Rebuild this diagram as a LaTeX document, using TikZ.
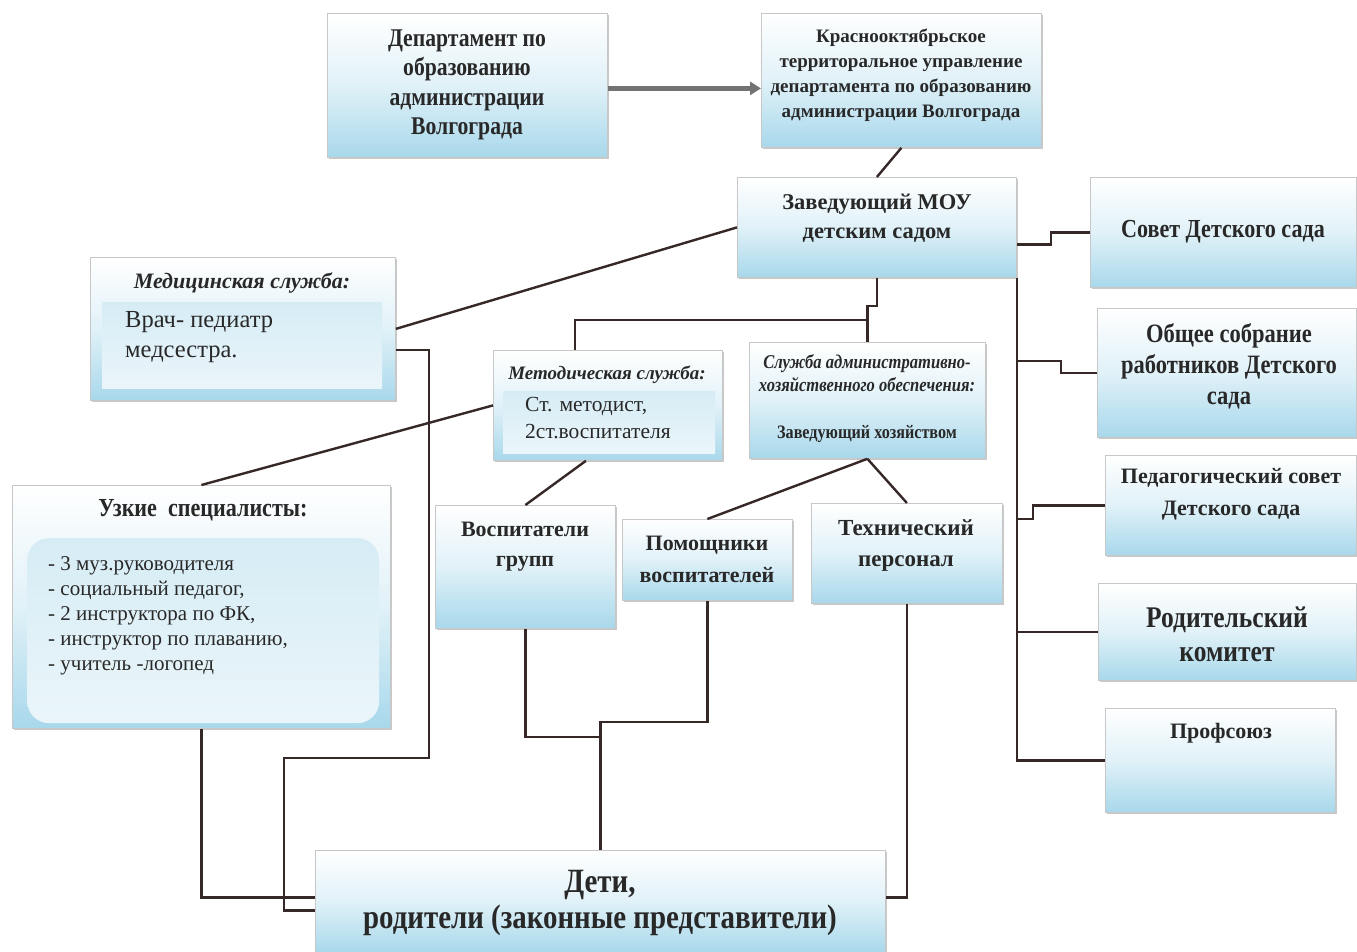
\documentclass[tikz,border=0pt]{standalone}
\usepackage{fontspec}
\setmainfont{Liberation Serif}
\newfontfamily\cond[FakeStretch=0.85]{Liberation Serif}
\usetikzlibrary{calc,shadows,arrows.meta}
\definecolor{boxblue}{RGB}{168,216,235}
\definecolor{innerblue}{RGB}{214,236,245}
\definecolor{lineclr}{RGB}{55,40,40}
\definecolor{txt}{RGB}{40,40,40}
\tikzset{
  orgbox/.style={draw=black!22, line width=0.8pt, top color=white, bottom color=boxblue,
    middle color=boxblue!35, anchor=north west, inner sep=0pt,
    drop shadow={shadow xshift=1.5pt, shadow yshift=-2pt, opacity=0.35, fill=black!60}},
  innerbox/.style={draw=none, top color=innerblue, bottom color=innerblue!50, anchor=north west, inner sep=0pt},
  conn/.style={draw=lineclr, line width=2.4pt},
  lbl/.style={text=txt, align=center, inner sep=0pt},
  lbll/.style={text=txt, align=left, inner sep=0pt, anchor=north west},
}
\newcommand\orgnode[5]{\node[orgbox, minimum width=#4pt, minimum height=#5pt] (#1) at (#2,#3) {};}
\newcommand\bfc[2]{\cond\bfseries\fontsize{#1}{#2}\selectfont}
\newcommand\bfp[2]{\bfseries\fontsize{#1}{#2}\selectfont}
\begin{document}
\begin{tikzpicture}[x=1pt,y=-1pt]
\useasboundingbox[fill=white] (0,0) rectangle (1357,952);
% boxes
\orgnode{dep}{327}{13}{280}{144}
\orgnode{kr}{761}{13}{280}{134}
\orgnode{zav}{737}{177}{279}{100}
\orgnode{sov}{1090}{177}{266}{110}
\orgnode{obs}{1097}{308}{259}{129}
\orgnode{ped}{1105}{455}{251}{100}
\orgnode{rod}{1098}{583}{258}{97}
\orgnode{prof}{1105}{708}{230}{104}
\orgnode{med}{90}{257}{305}{143}
\orgnode{met}{493}{350}{229}{110}
\orgnode{adm}{749}{342}{236}{116}
\orgnode{uzk}{12}{485}{378}{243}
\orgnode{vos}{435}{505}{180}{123}
\orgnode{pom}{622}{519}{170}{81}
\orgnode{teh}{811}{503}{191}{100}
\orgnode{det}{315}{850}{570}{102}
% inner areas
\node[innerbox, minimum width=280pt, minimum height=86pt] (med-in) at (102,302) {};
\node[innerbox, minimum width=212pt, minimum height=62pt] (met-in) at (503,391) {};
\node[innerbox, rounded corners=22pt, minimum width=352pt, minimum height=185pt] (uzk-in) at (27,538) {};
% texts
\node[lbl, font=\bfc{25.5}{29.5}] (dep-t) at (467,85) {Департамент по\\образованию\\администрации\\Волгограда};
\node[lbl, font=\bfp{19}{25}] (kr-t) at (901,75) {Краснооктябрьское\\территоральное управление\\департамента по образованию\\администрации Волгограда};
\node[lbl, font=\bfp{22.5}{29}] (zav-t) at (877,218) {Заведующий МОУ\\детским садом};
\node[lbl, font=\bfc{26}{29}] (sov-t) at (1223,232) {Совет Детского сада};
\node[lbl, font=\bfc{26.5}{31}] (obs-t) at (1229,366) {Общее собрание\\работников Детского\\сада};
\node[lbl, font=\bfp{22}{32}] (ped-t) at (1231,494) {Педагогический совет\\Детского сада};
\node[lbl, font=\bfc{30}{34}] (rod-t) at (1227,634) {Родительский\\комитет};
\node[lbl, font=\bfp{22}{26}] (prof-t) at (1221,733) {Профсоюз};
\node[lbl, font=\bfp{22}{26}\itshape] (med-h) at (242,283) {Медицинская служба:};
\node[lbll, font=\fontsize{24.5}{30}\selectfont] (med-b) at (125,311) {Врач- педиатр\\медсестра.};
\node[lbl, font=\bfp{19}{22}\itshape] (met-h) at (607,375) {Методическая служба:};
\node[lbll, font=\fontsize{21.5}{27}\selectfont] (met-b) at (525,397) {Ст. методист,\\2ст.воспитателя};
\node[lbl, font=\cond\bfseries\itshape\fontsize{19.5}{23}\selectfont] (adm-h) at (867,373) {Служба административно-\\хозяйственного обеспечения:};
\node[lbl, font=\bfc{19}{20}] (adm-b) at (867,434) {Заведующий хозяйством};
\node[lbl, font=\bfc{26}{30}] (uzk-h) at (203,510) {Узкие\ \ специалисты:};
\node[lbll, font=\fontsize{21}{25}\selectfont] (uzk-b) at (48,556) {- 3 муз.руководителя\\- социальный педагог,\\- 2 инструктора по ФК,\\- инструктор по плаванию,\\- учитель -логопед};
\node[lbl, font=\bfp{22}{30}] (vos-t) at (525,547) {Воспитатели\\групп};
\node[lbl, font=\bfp{22}{32}] (pom-t) at (707,559) {Помощники\\воспитателей};
\node[lbl, font=\bfp{23}{31}] (teh-t) at (906,546) {Технический\\персонал};
\node[lbl, font=\bfc{34}{36}] (det-t) at (600,903) {Дети,\\родители (законные представители)};
% connectors
\draw[line width=4.5pt, draw=black!55, -{Triangle[length=11pt,width=13pt]}] ($(dep.east)+(0,3)$) -- ($(dep.east -| kr.west)+(0,3)$);
\draw[conn] (kr.south) -- (zav.north);
\draw[conn] (zav.east) ++(0,17) -- ++(34,0) |- (sov.west);
\draw[conn] (zav.south east) |- (prof.west);
\draw[conn] (zav.south east) ++(0,83) -- ++(44,0) |- (obs.west);
\draw[conn] (zav.south east) ++(0,241) -- ++(16,0) |- (ped.west);
\draw[conn] (zav.south east |- rod.west) -- (rod.west);
\draw[conn] (zav.south) -- ++(0,28) -| (adm.north);
\coordinate (j1) at (867,320);
\draw[conn] (j1) -| ([xshift=-33pt]met.north);
\draw[conn] (zav.west) -- (med.east);
\draw[conn] (med.east) ++(0,21) -- ++(33,0) -- ++(0,408) -- ++(-145,0) |- ($(det.west)+(0,9)$);
\draw[conn] (uzk.south) |- ($(det.west)+(0,-4)$);
\draw[conn] (teh.south) |- ($(det.east)+(0,-4)$);
\draw[conn] (vos.south) |- ($(det.north)+(0,-113)$);
\draw[conn] (pom.south) |- ($(det.north)+(0,-128)$) -- (det.north);
\draw[conn] (met.west) -- (uzk.north);
\draw[conn] ([xshift=-22pt]met.south) -- (vos.north);
\draw[conn] (adm.south) -- (pom.north);
\draw[conn] (adm.south) -- (teh.north);
\end{tikzpicture}
\end{document}
